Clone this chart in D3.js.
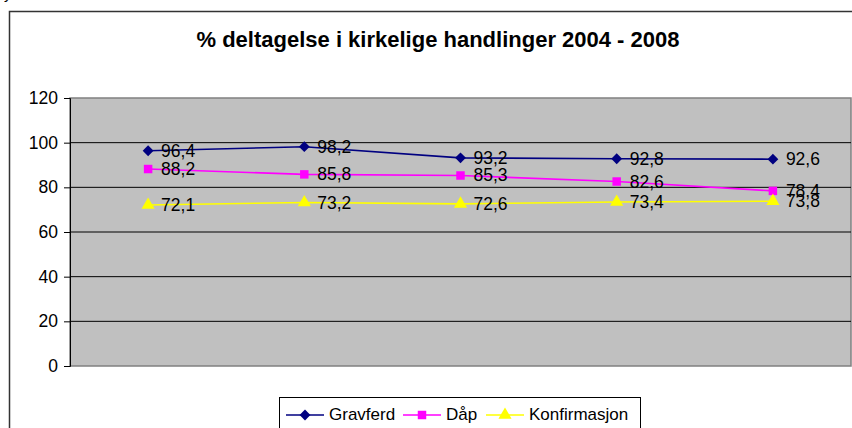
<!DOCTYPE html>
<html>
<head>
<meta charset="utf-8">
<script src="https://cdn.jsdelivr.net/npm/d3@7"></script>
<style>
  body { margin: 0; background: #fff; }
  text { font-family: Arial, "Liberation Sans", sans-serif; }
</style>
</head>
<body>
<div class="svgContainer"></div>
<script>
const WIDTH = 852;
const HEIGHT = 428;
const PLOT = { left: 70, top: 98, right: 851, bottom: 366 };

const years = ['2004', '2005', '2006', '2007', '2008'];
const gravferd = [96.4, 98.2, 93.2, 92.8, 92.6];
const daap = [88.2, 85.8, 85.3, 82.6, 78.4];
const konfirmasjon = [72.1, 73.2, 72.6, 73.4, 73.8];
const yTicks = [0, 20, 40, 60, 80, 100, 120];

const series = [
  { name: 'Gravferd', values: gravferd, color: '#000080', symbol: d3.symbolDiamond2, size: 75 },
  { name: 'Dåp', values: daap, color: '#FF00FF', symbol: d3.symbolSquare, size: 72 },
  { name: 'Konfirmasjon', values: konfirmasjon, color: '#FFFF00', symbol: d3.symbolTriangle, size: 75 }
];

const fmt = v => String(v).replace('.', ',');

const svg = d3.select('.svgContainer')
  .append('svg')
  .attr('width', WIDTH)
  .attr('height', HEIGHT);

// outer chart frame (runs off the canvas on the right and bottom)
svg.append('rect')
  .attr('x', 9.5)
  .attr('y', 11.5)
  .attr('width', 900)
  .attr('height', 500)
  .attr('fill', '#fff')
  .attr('stroke', '#333')
  .attr('stroke-width', 1.5);

// stray descender from text above the frame
svg.append('text')
  .attr('x', 4)
  .attr('y', -1)
  .style('font-size', '15px')
  .text('y');

svg.append('text')
  .attr('x', 438)
  .attr('y', 47)
  .attr('text-anchor', 'middle')
  .style('font-size', '22px')
  .style('font-weight', 'bold')
  .text('% deltagelse i kirkelige handlinger 2004 - 2008');

const xScale = d3.scaleBand()
  .domain(years)
  .range([PLOT.left, PLOT.right]);

const yScale = d3.scaleLinear()
  .domain([0, 120])
  .range([PLOT.bottom, PLOT.top]);

svg.append('rect')
  .attr('x', PLOT.left)
  .attr('y', PLOT.top)
  .attr('width', PLOT.right - PLOT.left)
  .attr('height', PLOT.bottom - PLOT.top)
  .attr('fill', '#C0C0C0')
  .attr('stroke', '#808080')
  .attr('stroke-width', 1.5);

svg.append('g')
  .selectAll('line')
  .data(yTicks.filter(t => t > 0 && t < 120))
  .enter()
  .append('line')
  .attr('x1', PLOT.left)
  .attr('x2', PLOT.right)
  .attr('y1', d => yScale(d))
  .attr('y2', d => yScale(d))
  .attr('stroke', '#000')
  .attr('stroke-width', 1);

const yAxis = d3.axisLeft(yScale).tickValues(yTicks).tickSize(6).tickPadding(6);
const yG = svg.append('g')
  .attr('transform', `translate(${PLOT.left}, 0)`)
  .call(yAxis);
yG.selectAll('text').style('font-size', '17.5px').attr('fill', '#000');
yG.select('.domain').attr('stroke', '#000');

const cx = (d, i) => xScale(years[i]) + xScale.bandwidth() / 2;

const line = d3.line()
  .x(cx)
  .y(d => yScale(d));

series.forEach(s => {
  const g = svg.append('g');
  g.append('path')
    .datum(s.values)
    .attr('d', line)
    .attr('fill', 'none')
    .attr('stroke', s.color)
    .attr('stroke-width', 1.6);
  g.selectAll('path.mark')
    .data(s.values)
    .enter()
    .append('path')
    .attr('class', 'mark')
    .attr('d', d3.symbol().type(s.symbol).size(s.size))
    .attr('transform', (d, i) => `translate(${cx(d, i)}, ${yScale(d)})`)
    .attr('fill', s.color);
  g.selectAll('text')
    .data(s.values)
    .enter()
    .append('text')
    .attr('x', (d, i) => cx(d, i) + 13)
    .attr('y', d => yScale(d) + 6)
    .style('font-size', '17.5px')
    .text(fmt);
});

// legend
const legend = svg.append('g').attr('id', 'legend');
legend.append('rect')
  .attr('x', 279.5)
  .attr('y', 397.5)
  .attr('width', 361)
  .attr('height', 40)
  .attr('fill', '#fff')
  .attr('stroke', '#000');

const legendX = [286, 403, 486];
series.forEach((s, i) => {
  const x0 = legendX[i];
  legend.append('line')
    .attr('x1', x0).attr('x2', x0 + 38)
    .attr('y1', 415).attr('y2', 415)
    .attr('stroke', s.color)
    .attr('stroke-width', 1.6);
  legend.append('path')
    .attr('d', d3.symbol().type(s.symbol).size(s.size))
    .attr('transform', `translate(${x0 + 19}, 415)`)
    .attr('fill', s.color);
  legend.append('text')
    .attr('x', x0 + 43)
    .attr('y', 420)
    .style('font-size', '17px')
    .text(s.name);
});
</script>
</body>
</html>
